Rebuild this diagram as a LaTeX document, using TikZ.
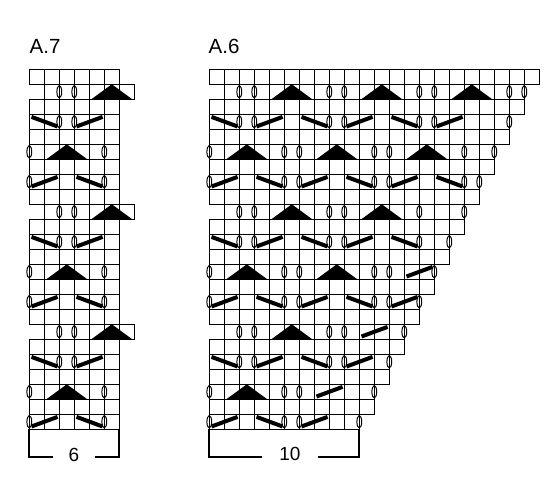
\documentclass[tikz,border=0pt]{standalone}
\usepackage{fontspec}
\setmainfont{Liberation Sans}
\newcommand{\chRow}[3]{%
  \draw[gl] ({15*(#2)},{-15*((#1)-1)}) rectangle ({15*(#3)},{-15*(#1)});
  \foreach \chj in {#2,...,#3}{\draw[gl] ({15*\chj},{-15*((#1)-1)}) -- ({15*\chj},{-15*(#1)});}%
}
\newcommand{\chO}[2]{\draw[ovl] ({15*(#2)},{-15*(#1)+7.5}) ellipse [x radius=2.4pt, y radius=6.2pt];}
\newcommand{\chT}[2]{\fill ({15*(#2)+2},{-15*(#1)}) -- ({15*(#2)+22.5},{-15*((#1)-1)}) -- ({15*(#2)+43},{-15*(#1)}) -- cycle;}
\newcommand{\chB}[2]{\draw[sl] ({15*(#2)+2.2},{-15*((#1)-1)-2.6}) -- ({15*(#2)+28.3},{-15*(#1)+2.8});}
\newcommand{\chF}[2]{\draw[sl] ({15*(#2)+2.2},{-15*(#1)+2.8}) -- ({15*(#2)+28.3},{-15*((#1)-1)-2.6});}
\begin{document}
\begin{tikzpicture}[x=1pt,y=1pt,
  gl/.style={line width=1.2pt},
  ovl/.style={line width=1pt},
  sl/.style={line width=4pt},
  br/.style={line width=1.9pt},
  lbl/.style={font=\fontsize{20.5}{24}\selectfont, inner sep=0pt},
  num/.style={font=\fontsize{19}{23}\selectfont, inner sep=0pt}]
\useasboundingbox (0,0) rectangle (550,-494);
\fill[white] (0,0) rectangle (550,-494);
% ---------- A.7 ----------
\begin{scope}[shift={(29.3,-69.3)}]
\foreach \b in {0,8,16}{
  \chRow{1+\b}{0}{6}
  \chRow{2+\b}{1}{7}
  \chRow{3+\b}{0}{6}
  \chRow{4+\b}{0}{6}
  \chRow{5+\b}{0}{6}
  \chRow{6+\b}{0}{6}
  \chRow{7+\b}{0}{6}
  \chRow{8+\b}{0}{6}
  \chO{2+\b}{2}\chO{2+\b}{3}\chT{2+\b}{4}
  \chB{4+\b}{0}\chO{4+\b}{2}\chO{4+\b}{3}\chF{4+\b}{3}
  \chO{6+\b}{0}\chT{6+\b}{1}\chO{6+\b}{5}
  \chO{8+\b}{0}\chF{8+\b}{0}\chB{8+\b}{3}\chO{8+\b}{5}
}
\end{scope}
% ---------- A.6 ----------
\begin{scope}[shift={(209.3,-69.3)}]
\chRow{1}{0}{22}
\chRow{2}{1}{21}
\chRow{3}{0}{21}
\chRow{4}{0}{20}
\chRow{5}{0}{20}
\chRow{6}{0}{19}
\chRow{7}{0}{19}
\chRow{8}{0}{18}
\chRow{9}{0}{18}
\chRow{10}{1}{17}
\chRow{11}{0}{17}
\chRow{12}{0}{16}
\chRow{13}{0}{16}
\chRow{14}{0}{15}
\chRow{15}{0}{15}
\chRow{16}{0}{14}
\chRow{17}{0}{14}
\chRow{18}{1}{13}
\chRow{19}{0}{13}
\chRow{20}{0}{12}
\chRow{21}{0}{12}
\chRow{22}{0}{11}
\chRow{23}{0}{11}
\chRow{24}{0}{10}
% row 2
\chO{2}{2}\chO{2}{3}\chT{2}{4}\chO{2}{8}\chO{2}{9}\chT{2}{10}\chO{2}{14}\chO{2}{15}\chT{2}{16}\chO{2}{20}\chO{2}{21}
% row 4
\chB{4}{0}\chO{4}{2}\chO{4}{3}\chF{4}{3}\chB{4}{6}\chO{4}{8}\chO{4}{9}\chF{4}{9}\chB{4}{12}\chO{4}{14}\chO{4}{15}\chF{4}{15}\chO{4}{20}
% row 6
\chO{6}{0}\chT{6}{1}\chO{6}{5}\chO{6}{6}\chT{6}{7}\chO{6}{11}\chO{6}{12}\chT{6}{13}\chO{6}{17}\chO{6}{19}
% row 8
\chO{8}{0}\chF{8}{0}\chB{8}{3}\chO{8}{5}\chO{8}{6}\chF{8}{6}\chB{8}{9}\chO{8}{11}\chO{8}{12}\chF{8}{12}\chB{8}{15}\chO{8}{17}\chO{8}{18}
% row 10
\chO{10}{2}\chO{10}{3}\chT{10}{4}\chO{10}{8}\chO{10}{9}\chT{10}{10}\chO{10}{14}\chO{10}{17}
% row 12
\chB{12}{0}\chO{12}{2}\chO{12}{3}\chF{12}{3}\chB{12}{6}\chO{12}{8}\chO{12}{9}\chF{12}{9}\chB{12}{12}\chO{12}{14}\chO{12}{16}
% row 14
\chO{14}{0}\chT{14}{1}\chO{14}{5}\chO{14}{6}\chT{14}{7}\chO{14}{11}\chO{14}{12}\chF{14}{13}\chO{14}{15}
% row 16
\chO{16}{0}\chF{16}{0}\chB{16}{3}\chO{16}{5}\chO{16}{6}\chF{16}{6}\chB{16}{9}\chO{16}{11}\chO{16}{12}\chF{16}{12}\chO{16}{14}
% row 18
\chO{18}{2}\chO{18}{3}\chT{18}{4}\chO{18}{8}\chO{18}{9}\chF{18}{10}\chO{18}{13}
% row 20
\chB{20}{0}\chO{20}{2}\chO{20}{3}\chF{20}{3}\chB{20}{6}\chO{20}{8}\chO{20}{9}\chF{20}{9}\chO{20}{12}
% row 22
\chO{22}{0}\chT{22}{1}\chO{22}{5}\chO{22}{6}\chF{22}{7}\chO{22}{11}
% row 24
\chO{24}{0}\chF{24}{0}\chB{24}{3}\chO{24}{5}\chO{24}{6}\chF{24}{6}\chO{24}{10}
\end{scope}
% ---------- labels ----------
\node[lbl, anchor=base west] (tA7) at (29.5,-53.3) {A.7};
\node[lbl, anchor=base west] (tA6) at (208.5,-53.3) {A.6};
\node[num, anchor=base] (t6) at (74,-461.5) {6};
\node[num, anchor=base] (t10) at (290,-460.5) {10};
% ---------- brackets ----------
\draw[br] (29.3,-429.3) -- (29.3,-456.7) -- (53.3,-456.7);
\draw[br] (95,-456.7) -- (119.3,-456.7) -- (119.3,-429.3);
\draw[br] (209.3,-429.3) -- (209.3,-456.7) -- (261.7,-456.7);
\draw[br] (318.3,-456.7) -- (359.3,-456.7) -- (359.3,-429.3);
\end{tikzpicture}
\end{document}
